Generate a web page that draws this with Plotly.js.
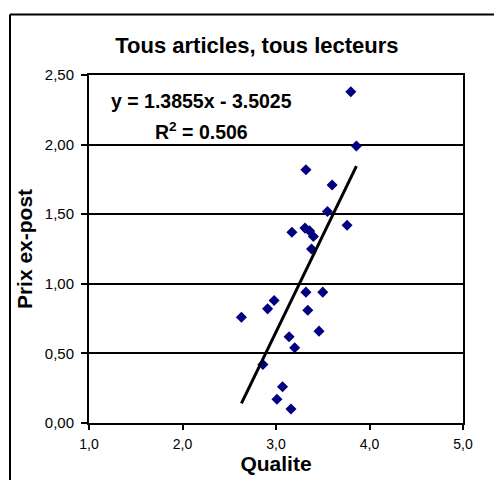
<!DOCTYPE html>
<html>
<head>
<meta charset="utf-8">
<script src="https://cdn.plot.ly/plotly-3.0.1.min.js"></script>
<style>html,body{margin:0;padding:0;background:#fff;}#chart{width:494px;height:480px;}</style>
</head>
<body>
<div id="chart"></div>
<script>
// Data
const qualite = [3.80, 3.86, 3.32, 3.60, 3.55, 3.76, 3.17, 3.31, 3.36, 3.40, 3.38, 3.32, 3.50, 2.98, 2.91, 2.63, 3.34, 3.46, 3.14, 3.20, 2.86, 3.07, 3.01, 3.16];
const prix    = [2.38, 1.99, 1.82, 1.71, 1.52, 1.42, 1.37, 1.40, 1.38, 1.34, 1.25, 0.94, 0.94, 0.88, 0.82, 0.76, 0.81, 0.66, 0.62, 0.54, 0.42, 0.26, 0.17, 0.10];
const trendSlope = 1.3855;
const trendIntercept = -3.5025;
const rSquared = 0.506;
const yTicks = [0, 0.5, 1.0, 1.5, 2.0, 2.5];
const xTicks = [1.0, 2.0, 3.0, 4.0, 5.0];

const xMin = Math.min(...qualite), xMax = Math.max(...qualite);
const trendX = [xMin, xMax];
const trendY = trendX.map(v => trendSlope * v + trendIntercept);

const FONT = '"Liberation Sans", Arial, sans-serif';

const traces = [
  {
    x: qualite, y: prix, type: 'scatter', mode: 'markers',
    marker: {symbol: 'diamond', color: '#000080', size: 8.5, line: {width: 0}},
    hoverinfo: 'x+y', showlegend: false
  },
  {
    x: trendX, y: trendY, type: 'scatter', mode: 'lines',
    line: {color: '#000000', width: 3}, hoverinfo: 'skip', showlegend: false
  }
];

const layout = {
  width: 494, height: 480,
  margin: {l: 89, r: 31, t: 75, b: 57, pad: 0},
  paper_bgcolor: '#ffffff', plot_bgcolor: '#ffffff',
  separators: ', ',
  font: {family: FONT, color: '#000000', size: 14},
  title: {
    text: '<b>Tous articles, tous lecteurs</b>',
    font: {family: FONT, size: 22, color: '#000'},
    xref: 'paper', x: 0.449, xanchor: 'center',
    yref: 'container', y: 1 - 45/480, yanchor: 'middle'
  },
  xaxis: {
    range: [1, 5], tickvals: xTicks, tickformat: '.1f',
    showgrid: false, zeroline: false,
    showline: true, linecolor: '#000', linewidth: 2, mirror: true,
    ticks: 'outside', ticklen: 5, tickwidth: 2, tickcolor: '#000',
    tickfont: {family: FONT, size: 14, color: '#000'},
    ticklabelstandoff: 2,
    title: {text: '<b>Qualite</b>', font: {family: FONT, size: 21, color: '#000'}, standoff: 2},
    fixedrange: true
  },
  yaxis: {
    range: [0, 2.5], tickvals: yTicks, tickformat: '.2f',
    showgrid: true, gridcolor: '#000', gridwidth: 2, zeroline: false,
    showline: true, linecolor: '#000', linewidth: 2, mirror: true,
    ticks: 'outside', ticklen: 6, tickwidth: 2, tickcolor: '#000',
    tickfont: {family: FONT, size: 15, color: '#000'},
    ticklabelstandoff: 4,
    title: {text: '<b>Prix ex-post</b>', font: {family: FONT, size: 21, color: '#000'}, standoff: 6},
    fixedrange: true
  },
  annotations: [
    {
      xref: 'x', yref: 'y', x: 2.198, y: 2.31, xanchor: 'center', yanchor: 'middle',
      text: '<b>y = ' + trendSlope.toFixed(4) + 'x - ' + Math.abs(trendIntercept).toFixed(4) + '</b>',
      showarrow: false, font: {family: FONT, size: 19.5, color: '#000'}
    },
    {
      xref: 'x', yref: 'y', x: 2.198, y: 2.10, xanchor: 'center', yanchor: 'middle',
      text: '<b>R<sup>2</sup> = ' + rSquared.toFixed(3) + '</b>',
      showarrow: false, font: {family: FONT, size: 19.5, color: '#000'}
    }
  ],
  shapes: [
    {type: 'line', xref: 'paper', yref: 'paper', x0: (10-89)/374, x1: (520-89)/374, y0: (423-14.5)/348, y1: (423-14.5)/348, line: {color: '#000', width: 2}},
    {type: 'line', xref: 'paper', yref: 'paper', x0: (10-89)/374, x1: (10-89)/374, y0: (423-14.5)/348, y1: (423-520)/348, line: {color: '#000', width: 2}}
  ]
};

Plotly.newPlot('chart', traces, layout, {staticPlot: true, displayModeBar: false});
</script>
</body>
</html>
